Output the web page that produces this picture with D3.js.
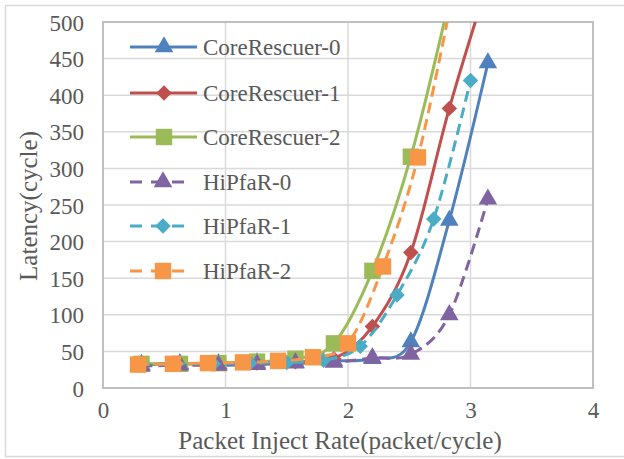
<!DOCTYPE html>
<html>
<head>
<meta charset="utf-8">
<script src="https://d3js.org/d3.v7.min.js"></script>
<style>
  body { margin: 0; background: #fff; }
  text { font-family: "Liberation Serif", "Times New Roman", serif; fill: #595959; }
</style>
</head>
<body>
<div id="chart"></div>
<script>
// Latency vs packet inject rate

// x positions of the samples (three different sweeps)
var xCore = [0.314, 0.628, 0.942, 1.257, 1.571, 1.885, 2.199, 2.513, 2.827, 3.142];
var xHi1 = [0.3, 0.6, 0.9, 1.2, 1.5, 1.8, 2.1, 2.4, 2.7, 3.0];
var xHi2 = [0.286, 0.571, 0.857, 1.143, 1.429, 1.714, 2.0, 2.286, 2.571, 2.857];

// latency values (cycle)
var core0 = [32, 33, 33, 34, 35, 37, 40, 63, 229, 444];
var core1 = [32, 33, 33, 34, 36, 40, 84, 185, 382, 555];
var core2 = [33, 33, 34, 36, 40, 61, 160, 316, 530];
var hi0 = [30, 31, 31, 32, 34, 35, 41, 46, 100, 258];
var hi1 = [32, 33, 33, 34, 35, 38, 57, 127, 231, 420];
var hi2 = [32, 33, 34, 35, 37, 42, 61, 166, 315, 540];

var seriesNames = ["CoreRescuer-0", "CoreRescuer-1", "CoreRescuer-2", "HiPfaR-0", "HiPfaR-1", "HiPfaR-2"];
var xTicks = [0, 1, 2, 3, 4];
var yTicks = [0, 50, 100, 150, 200, 250, 300, 350, 400, 450, 500];

var series = [
    { name: seriesNames[0], xs: xCore, ys: core0, color: "#4F81BD", marker: "triangle", dashed: false },
    { name: seriesNames[1], xs: xCore, ys: core1, color: "#C0504D", marker: "diamond", dashed: false },
    { name: seriesNames[2], xs: xCore, ys: core2, color: "#9BBB59", marker: "square", dashed: false },
    { name: seriesNames[3], xs: xCore, ys: hi0, color: "#8064A2", marker: "triangle", dashed: true },
    { name: seriesNames[4], xs: xHi1, ys: hi1, color: "#4BACC6", marker: "diamond", dashed: true },
    { name: seriesNames[5], xs: xHi2, ys: hi2, color: "#F79646", marker: "square", dashed: true }
];

var svgWidth = 624;
var svgHeight = 459;

var margin = { top: 22, right: 31, bottom: 71, left: 103 };
var width = svgWidth - margin.left - margin.right;
var height = svgHeight - margin.top - margin.bottom;

var serif = "'Liberation Serif', 'Times New Roman', serif";

var svg = d3.select("#chart")
    .append("svg")
    .attr("width", svgWidth)
    .attr("height", svgHeight);

// outer chart frame
svg.append("rect")
    .attr("x", 5.5)
    .attr("y", 5.5)
    .attr("width", 620)
    .attr("height", 451)
    .attr("fill", "none")
    .attr("stroke", "#d9d9d9")
    .attr("stroke-width", 1.5);

var g = svg.append("g")
    .attr("transform", `translate(${margin.left}, ${margin.top})`);

var xScale = d3.scaleLinear().domain([0, 4]).range([0, width]);
var yScale = d3.scaleLinear().domain([0, 500]).range([height, 0]);

// gridlines
g.append("g")
    .selectAll("line")
    .data(yTicks)
    .enter()
    .append("line")
    .attr("x1", 0)
    .attr("x2", width)
    .attr("y1", d => yScale(d))
    .attr("y2", d => yScale(d))
    .attr("stroke", "#d9d9d9")
    .attr("stroke-width", 1.5);

g.append("g")
    .selectAll("line")
    .data(xTicks)
    .enter()
    .append("line")
    .attr("x1", d => xScale(d))
    .attr("x2", d => xScale(d))
    .attr("y1", 0)
    .attr("y2", height)
    .attr("stroke", "#d9d9d9")
    .attr("stroke-width", 1.5);

// plot border
g.append("rect")
    .attr("width", width)
    .attr("height", height)
    .attr("fill", "none")
    .attr("stroke", "#bfbfbf")
    .attr("stroke-width", 2);

// axes (labels only, lines come from the border)
var bottomAxis = d3.axisBottom(xScale).tickValues(xTicks).tickFormat(d3.format("d")).tickSize(0).tickPadding(14);
var leftAxis = d3.axisLeft(yScale).tickValues(yTicks).tickFormat(d3.format("d")).tickSize(0).tickPadding(19);

var xAxis = g.append("g")
    .attr("transform", `translate(0, ${height})`)
    .call(bottomAxis);
var yAxis = g.append("g")
    .call(leftAxis);

[xAxis, yAxis].forEach(function(ax) {
    ax.attr("font-family", serif).attr("font-size", 23);
    ax.select(".domain").remove();
    ax.selectAll("text")
        .style("font-family", serif)
        .style("font-size", "23px")
        .attr("fill", "#595959");
});
yAxis.selectAll("text").attr("dy", "0.35em");

// axis titles
g.append("text")
    .attr("x", width / 2 - 8)
    .attr("y", height + 61)
    .attr("text-anchor", "middle")
    .style("font-size", "25px")
    .text("Packet Inject Rate(packet/cycle)");

g.append("text")
    .attr("transform", "rotate(-90)")
    .attr("x", 0 - 184)
    .attr("y", -66)
    .attr("text-anchor", "middle")
    .style("font-size", "25px")
    .text("Latency(cycle)");

// clip lines to the plot area
svg.append("clipPath")
    .attr("id", "plotClip")
    .append("rect")
    .attr("x", -1)
    .attr("y", 0)
    .attr("width", width + 2)
    .attr("height", height + 2);

var plot = g.append("g").attr("clip-path", "url(#plotClip)");

var line = d3.line()
    .x(d => xScale(d[0]))
    .y(d => yScale(d[1]))
    .curve(d3.curveCardinal.tension(0));

var symbolFor = {
    triangle: d3.symbol().type(d3.symbolTriangle).size(150),
    diamond: d3.symbol().type(d3.symbolSquare).size(120),
    square: d3.symbol().type(d3.symbolSquare).size(270)
};

function drawMarker(sel, s) {
    var p = sel.append("path")
        .attr("d", symbolFor[s.marker]())
        .attr("fill", s.color);
    if (s.marker === "diamond") {
        p.attr("transform", "rotate(45)");
    }
    return p;
}

series.forEach(function(s) {
    var pts = s.xs.slice(0, s.ys.length).map((x, i) => [x, s.ys[i]]);
    var sg = plot.append("g");
    sg.append("path")
        .datum(pts)
        .attr("d", line)
        .attr("fill", "none")
        .attr("stroke", s.color)
        .attr("stroke-width", 3)
        .attr("stroke-dasharray", s.dashed ? "11,6" : null);

    sg.selectAll("g.mark")
        .data(pts)
        .enter()
        .append("g")
        .attr("class", "mark")
        .attr("transform", d => `translate(${xScale(d[0])}, ${yScale(d[1])})`)
        .each(function() { drawMarker(d3.select(this), s); });
});

// legend
var legendY = [47, 93, 137, 182, 226, 271];
var legend = svg.append("g");
series.forEach(function(s, i) {
    var ly = legendY[i];
    legend.append("line")
        .attr("x1", 130)
        .attr("x2", s.dashed ? 184 : 197)
        .attr("y1", ly)
        .attr("y2", ly)
        .attr("stroke", s.color)
        .attr("stroke-width", 3)
        .attr("stroke-dasharray", s.dashed ? "12,9" : null);
    var mk = legend.append("g")
        .attr("transform", `translate(${s.dashed ? 163 : 164}, ${ly})`);
    drawMarker(mk, s);
    legend.append("text")
        .attr("x", 203)
        .attr("y", ly)
        .attr("dy", "0.35em")
        .style("font-size", "23px")
        .text(s.name);
});
</script>
</body>
</html>
